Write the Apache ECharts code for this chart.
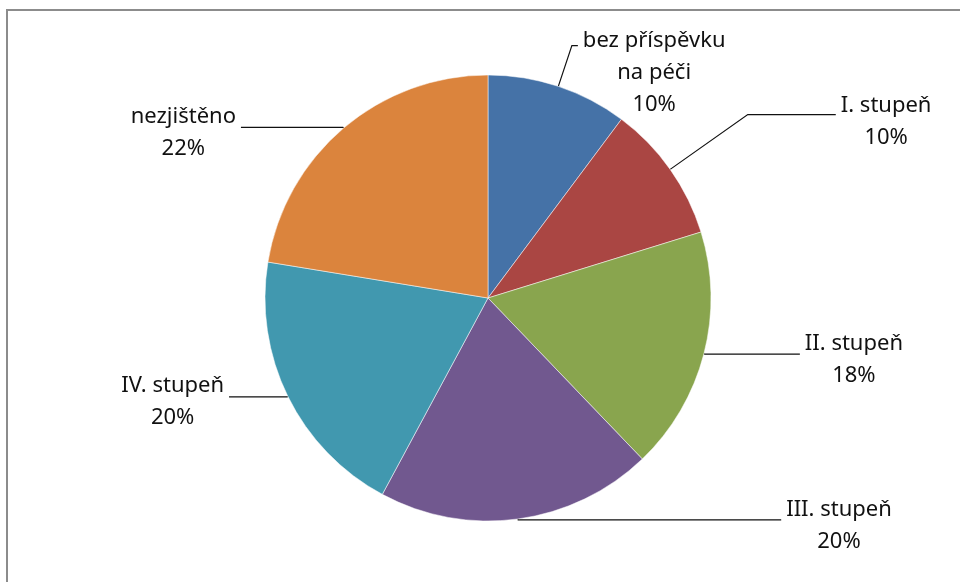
<!DOCTYPE html>
<html>
<head>
<meta charset="UTF-8" />
<title>pie</title>
<style type="text/css">
body,html{margin:0;padding:0;border:0;width:100%;height:100%;overflow:hidden;background:#fff;}
</style>
<script src="https://cdn.jsdelivr.net/npm/echarts@6/dist/echarts.min.js"></script>
</head>
<body>
<div id="chartContainer" style="width:960px;height:582px;"></div>
<script type="text/javascript">
// data (shares in %)
var categories = ['bez příspěvku\nna péči', 'I. stupeň', 'II. stupeň', 'III. stupeň', 'IV. stupeň', 'nezjištěno'];
var values = [10.2, 10.0, 17.6, 20.0, 19.7, 22.4];
var colors = ['#4572A7', '#AA4643', '#89A54E', '#71588F', '#4198AF', '#DB843D'];

// leader lines: [length, length2, label top padding]
var leaders = [[43, 6, 54], [95, 88, 14], [1, 95, 12], [1, 263, 12], [1, 58, 10], [1, 102, 10]];

function buildChart()
{
	var data = [];
	for (var i = 0; i < categories.length; i++) {
		data.push({
			name: categories[i],
			value: values[i],
			itemStyle: { color: colors[i] },
			label: { padding: [leaders[i][2], 0, 0, 0] },
			labelLine: { length: leaders[i][0], length2: leaders[i][1] }
		});
	}

	var option = {
		animation: false,
		graphic: [{
			type: 'rect',
			shape: { x: 7, y: 10, width: 1000, height: 1000 },
			style: { fill: 'none', stroke: '#8c8c8c', lineWidth: 2 },
			silent: true
		}],
		series: [{
			type: 'pie',
			center: [488, 298],
			radius: 223,
			startAngle: 90,
			clockwise: true,
			avoidLabelOverlap: false,
			itemStyle: { borderColor: '#fff', borderWidth: 0.5 },
			label: {
				position: 'outside',
				distanceToLabelLine: 5,
				formatter: function (p) {
					var lines = p.name.split('\n');
					lines.push(Math.round(p.value) + '%');
					return lines.map(function (s) { return '{a|' + s + '}'; }).join('\n');
				},
				rich: {
					a: {
						align: 'center',
						fontFamily: 'Noto Sans',
						fontSize: 22,
						lineHeight: 32,
						color: '#111'
					}
				}
			},
			labelLine: {
				show: true,
				smooth: false,
				lineStyle: { color: '#111', width: 1.2 }
			},
			data: data
		}]
	};

	var chart = echarts.init(document.getElementById('chartContainer'));
	chart.setOption(option);
}
buildChart();
</script>
</body>
</html>
